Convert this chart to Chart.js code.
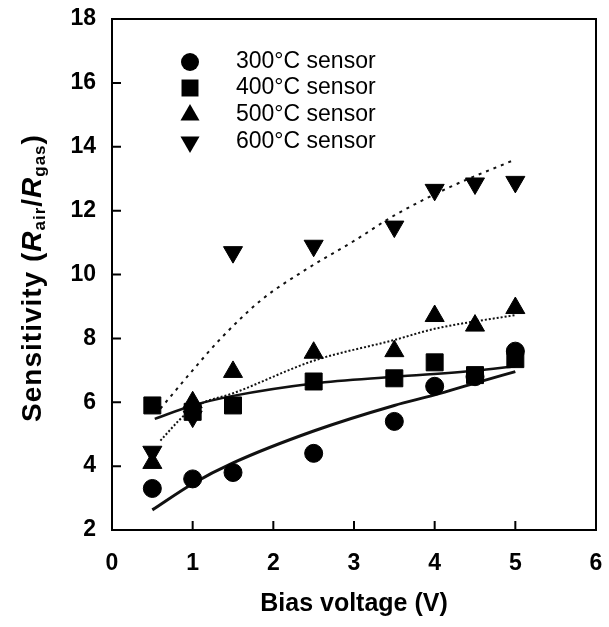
<!DOCTYPE html>
<html>
<head>
<meta charset="utf-8">
<script src="https://cdn.jsdelivr.net/npm/chart.js"></script>
<style>
  body { margin: 0; background: #fff; }
  canvas { display: block; }
</style>
</head>
<body>
<canvas id="grafico" width="609" height="627"></canvas>
<script>
// measured values (bias voltage in V, sensitivity Rair/Rgas)
var voltages = [0.5, 1, 1.5, 2.5, 3.5, 4, 4.5, 5];
var sens300 = [3.3, 3.6, 3.8, 4.4, 5.4, 6.5, 6.8, 7.6];
var sens400 = [5.9, 5.7, 5.9, 6.65, 6.75, 7.25, 6.85, 7.35];
var sens500 = [4.1, 6.0, 6.95, 7.55, 7.6, 8.7, 8.4, 8.95];
var sens600 = [4.45, 5.55, 10.7, 10.9, 11.5, 12.65, 12.85, 12.9];

// fitted curves
var fit300X = [0.5, 1, 1.5, 2.5, 3.5, 4, 4.5, 5];
var fit300Y = [2.63, 3.45, 4.1, 5.1, 5.9, 6.23, 6.6, 6.96];
var fit400X = [0.53, 1, 1.5, 2.5, 3.5, 4.5, 5];
var fit400Y = [5.48, 5.9, 6.2, 6.59, 6.8, 6.99, 7.13];
var fit500X = [0.6, 0.9, 1.1, 1.5, 2.5, 3.5, 4, 5];
var fit500Y = [4.8, 5.6, 5.95, 6.28, 7.3, 7.95, 8.3, 8.73];
var fit600X = [0.6, 0.8, 1.0, 1.35, 1.85, 2.4, 3.0, 3.5, 4.2, 4.95];
var fit600Y = [5.8, 6.4, 7.0, 8.0, 9.2, 10.15, 11.05, 11.85, 12.75, 13.55];

var seriesNames = ["300\u00B0C sensor", "400\u00B0C sensor", "500\u00B0C sensor", "600\u00B0C sensor"];
var xTickLabels = ["0", "1", "2", "3", "4", "5", "6"];
var yTickLabels = ["2", "4", "6", "8", "10", "12", "14", "16", "18"];
var xTitle = "Bias voltage (V)";

var FONT = "'Liberation Sans', Arial, Helvetica, sans-serif";

function punti(xs, ys) {
    var out = [];
    for (let i = 0; i < xs.length; i++) {
        out.push({ x: xs[i], y: ys[i] });
    }
    return out;
}

function marker(label, ys, style, radius, rotation) {
    return {
        label: label,
        data: punti(voltages, ys),
        showLine: false,
        pointStyle: style,
        pointRadius: radius,
        pointRotation: rotation || 0,
        pointBackgroundColor: "#000",
        pointBorderColor: "#000",
        pointBorderWidth: 1
    };
}

function curva(xs, ys, width, dash) {
    return {
        label: "fit",
        data: punti(xs, ys),
        showLine: true,
        fill: false,
        pointRadius: 0,
        borderColor: "#111",
        borderWidth: width,
        borderDash: dash,
        cubicInterpolationMode: "monotone"
    };
}

var datasets = [
    marker(seriesNames[0], sens300, "circle", 9),
    marker(seriesNames[1], sens400, "rect", 12),
    marker(seriesNames[2], sens500, "triangle", 11),
    marker(seriesNames[3], sens600, "triangle", 11, 180),
    curva(fit300X, fit300Y, 3, []),
    curva(fit400X, fit400Y, 2.5, []),
    curva(fit500X, fit500Y, 2, [2, 2]),
    curva(fit600X, fit600Y, 2, [3, 5])
];

function disegnaPunto(ctx, ds, x, y) {
    if (Chart.helpers && Chart.helpers.drawPoint) {
        ctx.fillStyle = "#000";
        ctx.strokeStyle = "#000";
        ctx.lineWidth = 1;
        Chart.helpers.drawPoint(ctx, { pointStyle: ds.pointStyle, radius: ds.pointRadius, rotation: ds.pointRotation }, x, y);
    }
}

// frame, inward ticks, legend and y title with subscripts
var cornice = {
    id: "cornice",
    afterDraw: function (chart) {
        var ctx = chart.ctx;
        var a = chart.chartArea;
        var sx = chart.scales.x;
        var sy = chart.scales.y;
        ctx.save();
        ctx.strokeStyle = "#000";
        ctx.lineWidth = 2;
        ctx.strokeRect(a.left, a.top, a.right - a.left, a.bottom - a.top);
        ctx.beginPath();
        for (let i = 0; i < xTickLabels.length; i++) {
            let px = sx.getPixelForValue(Number(xTickLabels[i]));
            ctx.moveTo(px, a.bottom);
            ctx.lineTo(px, a.bottom - 9);
        }
        for (let i = 0; i < yTickLabels.length; i++) {
            let py = sy.getPixelForValue(Number(yTickLabels[i]));
            ctx.moveTo(a.left, py);
            ctx.lineTo(a.left + 9, py);
        }
        ctx.stroke();

        // legenda
        var righe = [62, 88, 115, 142];
        ctx.font = "23px " + FONT;
        ctx.textBaseline = "middle";
        ctx.textAlign = "left";
        for (let i = 0; i < 4; i++) {
            disegnaPunto(ctx, chart.data.datasets[i], 190, righe[i]);
            ctx.fillStyle = "#000";
            ctx.fillText(seriesNames[i], 236, righe[i]);
        }

        // titolo asse y
        var pezzi = [
            { t: "Sensitivity (", f: "bold 28px " + FONT, dy: 0 },
            { t: "R", f: "italic bold 28px " + FONT, dy: 0 },
            { t: "air", f: "bold 17px " + FONT, dy: 7 },
            { t: "/", f: "bold 28px " + FONT, dy: 0 },
            { t: "R", f: "italic bold 28px " + FONT, dy: 0 },
            { t: "gas", f: "bold 17px " + FONT, dy: 7 },
            { t: ")", f: "bold 28px " + FONT, dy: 0 }
        ];
        ctx.letterSpacing = "1px";
        var tot = 0;
        for (let i = 0; i < pezzi.length; i++) {
            ctx.font = pezzi[i].f;
            pezzi[i].w = ctx.measureText(pezzi[i].t).width;
            tot += pezzi[i].w;
        }
        ctx.translate(33, 278);
        ctx.rotate(-Math.PI / 2);
        ctx.textBaseline = "middle";
        var cx = -tot / 2;
        for (let i = 0; i < pezzi.length; i++) {
            ctx.font = pezzi[i].f;
            ctx.fillText(pezzi[i].t, cx, pezzi[i].dy);
            cx += pezzi[i].w;
        }
        ctx.restore();
    }
};

var grafico = document.getElementById("grafico").getContext("2d");
var chart = new Chart(grafico, {
    type: "scatter",
    data: { datasets: datasets },
    options: {
        responsive: false,
        animation: false,
        layout: { padding: { top: 19, right: 7, left: 0, bottom: 0 } },
        plugins: {
            legend: { display: false },
            tooltip: { enabled: false }
        },
        scales: {
            x: {
                type: "linear",
                min: 0,
                max: 6,
                afterFit: function (s) {
                    s.height = 97;
                    s.paddingLeft = 0;
                    s.paddingRight = 0;
                },
                afterBuildTicks: function (s) {
                    s.ticks = xTickLabels.map(function (t) { return { value: Number(t) }; });
                },
                ticks: {
                    color: "#000",
                    padding: 20,
                    font: { family: FONT, size: 23, weight: "bold" },
                    callback: function (v, i) { return xTickLabels[i]; }
                },
                grid: { drawOnChartArea: false, drawTicks: false },
                border: { display: false },
                title: {
                    display: true,
                    text: xTitle,
                    color: "#000",
                    font: { family: FONT, size: 25, weight: "bold" },
                    padding: { top: 6, bottom: 8 }
                }
            },
            y: {
                type: "linear",
                min: 2,
                max: 18,
                afterFit: function (s) {
                    s.width = 112;
                    s.paddingTop = 0;
                    s.paddingBottom = 0;
                },
                afterBuildTicks: function (s) {
                    s.ticks = yTickLabels.map(function (t) { return { value: Number(t) }; });
                },
                ticks: {
                    color: "#000",
                    padding: 16,
                    font: { family: FONT, size: 23, weight: "bold" },
                    callback: function (v, i) { return yTickLabels[i]; }
                },
                grid: { drawOnChartArea: false, drawTicks: false },
                border: { display: false }
            }
        }
    },
    plugins: [cornice]
});
</script>
</body>
</html>
